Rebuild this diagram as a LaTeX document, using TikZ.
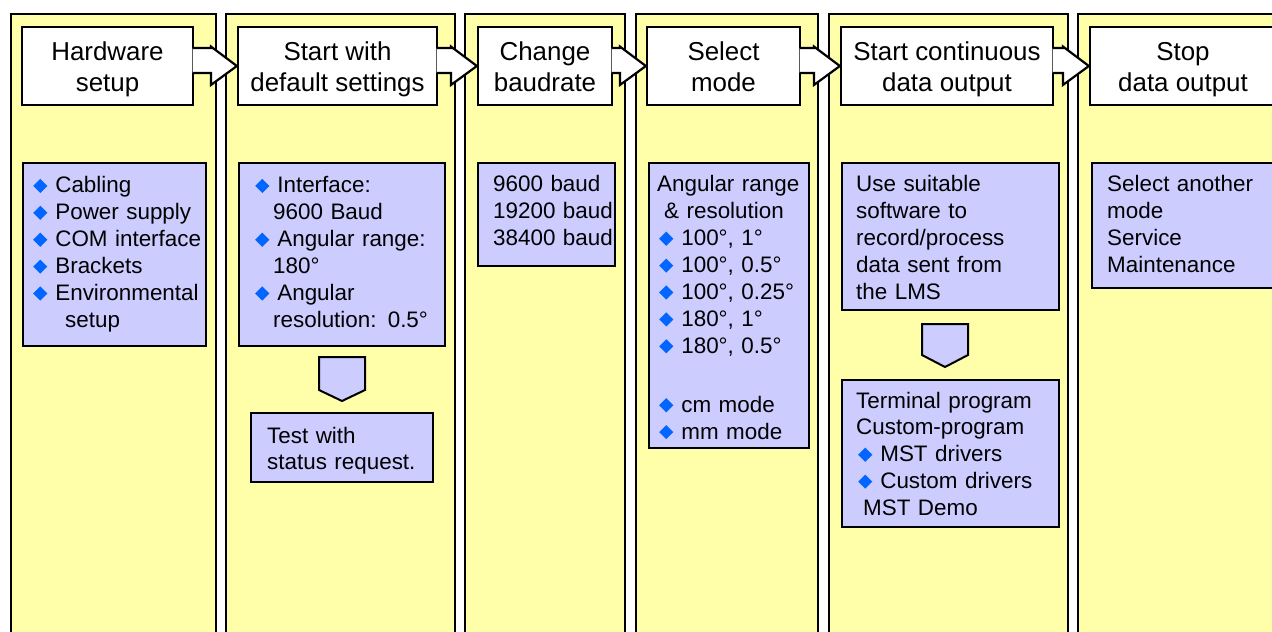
\documentclass[tikz,border=0pt]{standalone}
\usepackage{fontspec}
\setmainfont{Liberation Sans}
\usepackage{graphicx}
\usepackage{tikz}
\usetikzlibrary{calc,shapes}

\definecolor{laneyellow}{RGB}{255,255,170}
\definecolor{notelav}{RGB}{204,204,255}
\definecolor{bulletblue}{RGB}{0,102,255}
\newcommand{\bul}{{\color{bulletblue}\rotatebox{45}{\rule{10bp}{10bp}}}\hspace{8bp}}

\begin{document}
\begin{tikzpicture}[x=1bp,y=-1bp,line join=miter,
  lane/.style={fill=laneyellow,draw=black,line width=2bp},
  hdrbox/.style={draw,fill=white,line width=2.2bp,rectangle,minimum height=78bp,inner sep=0pt,align=center,font=\fontsize{26}{32}\selectfont,
    execute at begin node=\rule{0pt}{60bp},execute at end node=\rule[-8bp]{0pt}{8bp}},
  notebox/.style={draw,fill=notelav,line width=2bp,rectangle,anchor=north west,inner sep=0pt},
  notetext/.style={anchor=base west,inner sep=0pt,text width=250bp,align=left,font=\fontsize{22.5}{27}\selectfont},
  flowarrow/.style={fill=white,draw=black,line width=2.2bp},
  downarrow/.style={fill=notelav,draw=black,line width=2bp}]
%%
\clip (0,0) rectangle (1272,632);
\fill[white] (0,0) rectangle (1272,632);
% lanes
\draw[lane] (11,14) rectangle (216,660);
\draw[lane] (226,14) rectangle (455,660);
\draw[lane] (465,14) rectangle (625,660);
\draw[lane] (636,14) rectangle (818,660);
\draw[lane] (829,14) rectangle (1068,660);
\draw[lane] (1078,14) rectangle (1300,660);
%
\begin{scope}
  \node (hw) at (107.5,66) [hdrbox,minimum width=171bp] {Hardware\\setup};
  \node (defset) at (337.5,66) [hdrbox,minimum width=199bp] {Start with\\default settings};
  \node (baud) at (545,66) [hdrbox,minimum width=134bp] {Change\\baudrate};
  \node (mode) at (723.5,66) [hdrbox,minimum width=153bp] {Select\\mode};
  \node (cont) at (947,66) [hdrbox,minimum width=212bp] {Start continuous\\data output};
  \node (stop) at (1183,66) [hdrbox,minimum width=186bp] {Stop\\data output};
\end{scope}
\begin{scope}
  \path[flowarrow] ($(hw.east)+(-1.5,-18)$) -- ($(defset.west)+(-26,-18)$) -- ++(0,-1.5) -- (defset.west) -- ++(-26,19) -- ++(0,-12) -- ($(hw.east)+(-1.5,7)$);
  \path[flowarrow] ($(defset.east)+(-1.5,-18)$) -- ($(baud.west)+(-26,-18)$) -- ++(0,-1.5) -- (baud.west) -- ++(-26,19) -- ++(0,-12) -- ($(defset.east)+(-1.5,7)$);
  \path[flowarrow] ($(baud.east)+(-1.5,-18)$) -- ($(mode.west)+(-26,-18)$) -- ++(0,-1.5) -- (mode.west) -- ++(-26,19) -- ++(0,-12) -- ($(baud.east)+(-1.5,7)$);
  \path[flowarrow] ($(mode.east)+(-1.5,-18)$) -- ($(cont.west)+(-26,-18)$) -- ++(0,-1.5) -- (cont.west) -- ++(-26,19) -- ++(0,-12) -- ($(mode.east)+(-1.5,7)$);
  \path[flowarrow] ($(cont.east)+(-1.5,-18)$) -- ($(stop.west)+(-26,-18)$) -- ++(0,-1.5) -- (stop.west) -- ++(-26,19) -- ++(0,-12) -- ($(cont.east)+(-1.5,7)$);
\end{scope}
%%
\begin{scope}
  \node (hwnote) at (22,162) [notebox,minimum width=183bp,minimum height=183bp] {};
  \node (setnote) at (238,162) [notebox,minimum width=206bp,minimum height=183bp] {};
  \node (testnote) at (250,412) [notebox,minimum width=182bp,minimum height=69bp] {};
  \node (baudnote) at (477,162) [notebox,minimum width=137bp,minimum height=103bp] {};
  \node (modenote) at (648,162) [notebox,minimum width=160bp,minimum height=285bp] {};
  \node (swnote) at (841,162) [notebox,minimum width=217bp,minimum height=147bp] {};
  \node (prognote) at (841,379) [notebox,minimum width=217bp,minimum height=147bp] {};
  \node (morenote) at (1091,162) [notebox,minimum width=200bp,minimum height=125bp] {};
\end{scope}
\begin{scope}
  \path[downarrow] ($(setnote.south)+(-23,10)$) -- ++(46,0) -- ($(testnote.north)+(23,-22)$) -- ($(testnote.north)+(0,-11)$) -- ($(testnote.north)+(-23,-22)$) -- cycle;
  \path[downarrow] ($(swnote.south)+(-28.5,13)$) -- ++(46,0) -- ($(prognote.north)+(17.5,-24)$) -- ($(prognote.north)+(-5.5,-12)$) -- ($(prognote.north)+(-28.5,-24)$) -- cycle;
\end{scope}
%
\begin{scope}
  \node (hwtext) at ($(hwnote.north west)+(11,31)$) [notetext]
    {\bul Cabling\\ \bul Power supply\\ \bul COM interface\\ \bul Brackets\\ \bul Environmental\\ \hspace*{32bp}setup};
  \node (settext) at ($(setnote.north west)+(17,31)$) [notetext]
    {\bul Interface:\\ \hspace*{18bp}9600 Baud\\ \bul Angular range:\\ \hspace*{18bp}180°\\ \bul Angular\\ \hspace*{18bp}resolution: 0.5°};
  \node (testtext) at ($(testnote.north west)+(17,31)$) [notetext] {Test with\\ status request.};
  \node (baudtext) at ($(baudnote.north west)+(16,30)$) [notetext] {9600 baud\\ 19200 baud\\ 38400 baud};
  \node (modetext) at ($(modenote.north west)+(9,30)$) [notetext]
    {Angular range\\ \hspace*{7bp}\& resolution\\ \hspace*{2bp}\bul 100°, 1°\\ \hspace*{2bp}\bul 100°, 0.5°\\ \hspace*{2bp}\bul 100°, 0.25°\\
     \hspace*{2bp}\bul 180°, 1°\\ \hspace*{2bp}\bul 180°, 0.5°\\[32bp] \hspace*{2bp}\bul cm mode\\ \hspace*{2bp}\bul mm mode};
  \node (swtext) at ($(swnote.north west)+(15,30)$) [notetext]
    {Use suitable\\ software to\\ record/process\\ data sent from\\ the LMS};
  \node (progtext) at ($(prognote.north west)+(15,29)$) [notetext]
    {Terminal program\\ Custom-program\\ \hspace*{2bp}\bul MST drivers\\ \hspace*{2bp}\bul Custom drivers\\ \hspace*{7bp}MST Demo};
  \node (moretext) at ($(morenote.north west)+(16,30)$) [notetext]
    {Select another\\ mode\\ Service\\ Maintenance};
\end{scope}
%
\end{tikzpicture}
\end{document}
